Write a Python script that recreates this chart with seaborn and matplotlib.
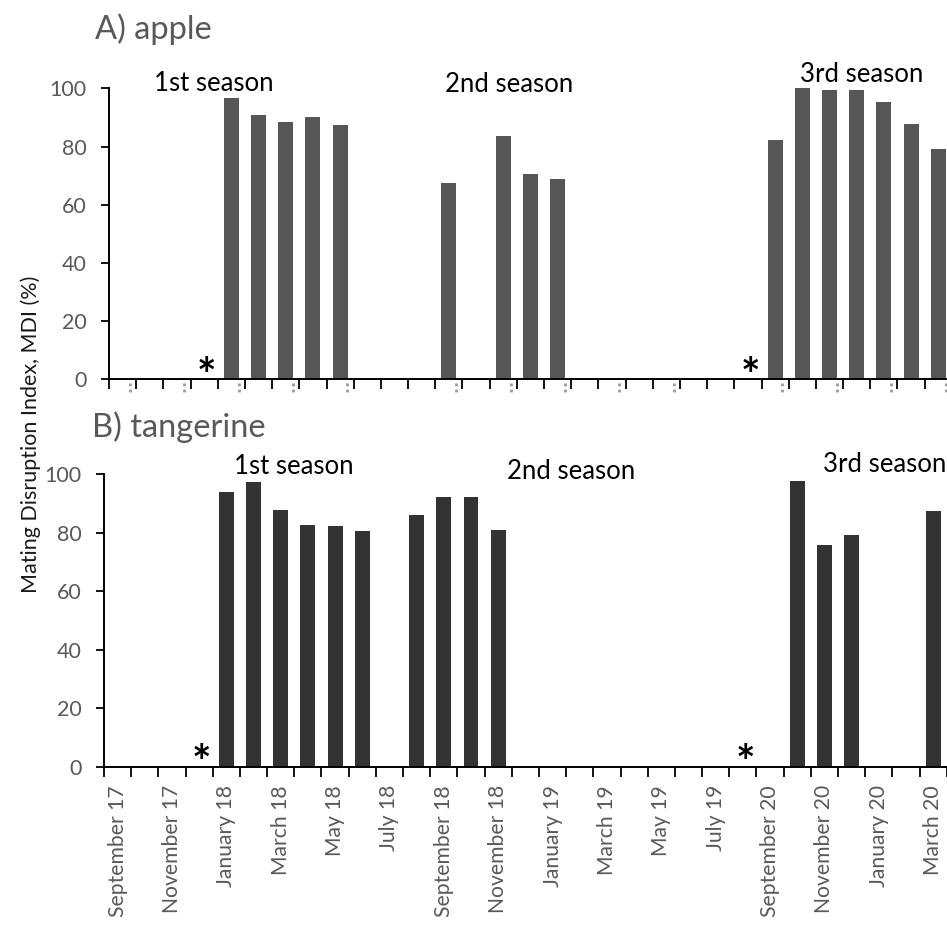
import matplotlib
matplotlib.use('Agg')
import matplotlib.pyplot as plt
import seaborn as sns
import numpy as np
import pandas as pd

# --- data ---------------------------------------------------------------
months = ['Sep 17', 'Oct 17', 'Nov 17', 'Dec 17', 'Jan 18', 'Feb 18', 'Mar 18',
          'Apr 18', 'May 18', 'Jun 18', 'Jul 18', 'Aug 18', 'Sep 18', 'Oct 18',
          'Nov 18', 'Dec 18', 'Jan 19', 'Feb 19', 'Mar 19', 'Apr 19', 'May 19',
          'Jun 19', 'Jul 19', 'Aug 19', 'Sep 19', 'Oct 19', 'Nov 19', 'Dec 19',
          'Jan 20', 'Feb 20', 'Mar 20']

tick_labels = ['September 17', 'November 17', 'January 18', 'March 18', 'May 18',
               'July 18', 'September 18', 'November 18', 'January 19', 'March 19',
               'May 19', 'July 19', 'September 20', 'November 20', 'January 20',
               'March 20']

apple_months = ['Jan 18', 'Feb 18', 'Mar 18', 'Apr 18', 'May 18',
                'Sep 18', 'Nov 18', 'Dec 18', 'Jan 19',
                'Sep 19', 'Oct 19', 'Nov 19', 'Dec 19', 'Jan 20', 'Feb 20', 'Mar 20']
apple_mdi = [96.8, 90.7, 88.3, 90.0, 87.3,
             67.4, 83.5, 70.7, 68.7,
             82.1, 100.0, 99.5, 99.4, 95.4, 87.9, 79.0]

tangerine_months = ['Jan 18', 'Feb 18', 'Mar 18', 'Apr 18', 'May 18', 'Jun 18',
                    'Aug 18', 'Sep 18', 'Oct 18', 'Nov 18',
                    'Oct 19', 'Nov 19', 'Dec 19', 'Mar 20']
tangerine_mdi = [94.0, 97.4, 87.6, 82.5, 82.3, 80.6,
                 85.9, 92.2, 92.2, 80.8,
                 97.6, 75.7, 79.1, 87.2]

# months with no trapping data (marked with *)
star_months = ['Dec 17', 'Aug 19']

# season labels: (text, x position in month units, y)
apple_seasons = [('1st season', 3.36, 99.2), ('2nd season', 14.2, 98.6), ('3rd season', 27.2, 102.3)]
tangerine_seasons = [('1st season', 6.5, 99.9), ('2nd season', 16.7, 98.3), ('3rd season', 28.2, 100.6)]

# --------------------------------------------------------------------------
sns.set_style('white')
plt.rcParams['font.family'] = ['Lato', 'DejaVu Sans']

GRAY = '#595959'

fig = plt.figure(figsize=(9.47, 9.27), dpi=100)
ax_a = fig.add_axes([0.1151, 0.5908, 0.890, 0.3139])
ax_b = fig.add_axes([0.1098, 0.1726, 0.890, 0.3161])


def draw_panel(ax, cats, vals, color, seasons):
    df = pd.DataFrame({'month': cats, 'mdi': vals})
    sns.barplot(data=df, x='month', y='mdi', order=months, color=color,
                width=0.55, linewidth=0, saturation=1, ax=ax)
    ax.set_xlim(-0.5, len(months) - 0.5)
    ax.set_ylim(0, 100)
    ax.set_yticks([0, 20, 40, 60, 80, 100])
    ax.tick_params(axis='y', labelsize=15.5, labelcolor=GRAY, left=True,
                   length=6, width=1.3, color='black', pad=10)
    # ticks between the months, labels on every second month
    ax.set_xticks(np.arange(-0.5, len(months), 1))
    ax.set_xticklabels([])
    ax.tick_params(axis='x', which='major', bottom=True, length=7, width=1.3,
                   color='black', direction='out')
    ax.set_xlabel('')
    ax.set_ylabel('')
    for s in ['top', 'right']:
        ax.spines[s].set_visible(False)
    for s in ['left', 'bottom']:
        ax.spines[s].set_color('black')
        ax.spines[s].set_linewidth(1.4)
    for txt, x, y in seasons:
        ax.text(x, y, txt, ha='center', va='baseline', fontsize=18.5,
                color='black', clip_on=False)
    for m in star_months:
        ax.text(months.index(m) + 0.1, -3.9, '*', ha='center', va='baseline',
                fontsize=33, fontweight='bold', color='black')


draw_panel(ax_a, apple_months, apple_mdi, '#565656', apple_seasons)
draw_panel(ax_b, tangerine_months, tangerine_mdi, '#333333', tangerine_seasons)

# bottom panel month labels
ax_b.set_xticks(np.arange(0, len(months), 2), minor=True)
ax_b.set_xticklabels(tick_labels, minor=True, rotation=90, fontsize=15.2,
                     color=GRAY)
ax_b.tick_params(axis='x', which='minor', length=0, pad=13)

# faint remnants of hidden labels under the top panel
for i in range(0, len(months), 2):
    if months[i].startswith('Jul'):
        continue
    ax_a.plot([i + 0.27, i + 0.27], [-1.2, -4.5], ls=(0, (1, 1.2)), lw=2,
              color='#9a9a9a', clip_on=False)

fig.text(0.100, 0.958, 'A) apple', fontsize=23.5, color=GRAY, ha='left', va='baseline')
fig.text(0.097, 0.5286, 'B) tangerine', fontsize=23.5, color=GRAY, ha='left', va='baseline')
fig.text(0.032, 0.532, 'Mating Disruption Index, MDI (%)', rotation=90,
         fontsize=15.5, color='#1a1a1a', ha='center', va='center')

fig.savefig('out.png', dpi=100)
